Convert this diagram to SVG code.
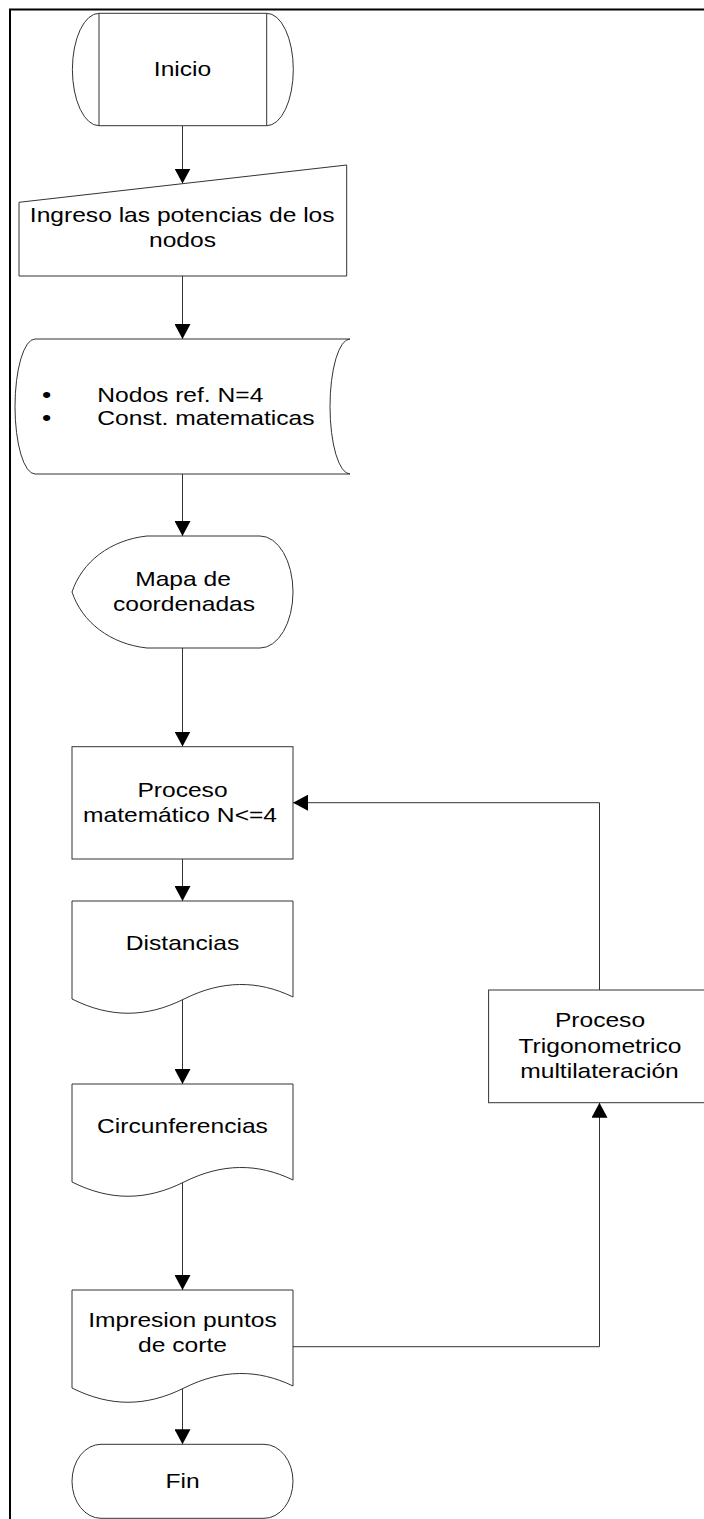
<svg xmlns="http://www.w3.org/2000/svg" width="704" height="1519" viewBox="0 0 704 1519">
<style>
.s{fill:#fff;stroke:#333;stroke-width:1}
.c{fill:none;stroke:#333;stroke-width:1}
.t{font-family:"Liberation Sans",Arial,sans-serif;font-size:20.5px;fill:#000}
</style>
<defs>
<marker id="a" markerUnits="userSpaceOnUse" markerWidth="16" markerHeight="16" refX="15" refY="8" orient="auto"><path d="M0,0 L15,8 L0,16 Z" fill="#000"/></marker>
</defs>
<rect width="704" height="1519" fill="#fff"/>
<path d="M10,1519 V9.5 H704" fill="none" stroke="#000" stroke-width="2"/>

<g id="connectors">
<path class="c" d="M182.5,126 V183.6" marker-end="url(#a)"/>
<path class="c" d="M182.5,276 V339" marker-end="url(#a)"/>
<path class="c" d="M182.5,474 V536" marker-end="url(#a)"/>
<path class="c" d="M182.5,648 V746.5" marker-end="url(#a)"/>
<path class="c" d="M182.5,859 V901" marker-end="url(#a)"/>
<path class="c" d="M182.5,999 V1084" marker-end="url(#a)"/>
<path class="c" d="M182.5,1182 V1290" marker-end="url(#a)"/>
<path class="c" d="M182.5,1388 V1444.3" marker-end="url(#a)"/>
<path class="c" d="M293,1346.7 H599.5 V1102.7" marker-end="url(#a)"/>
<path class="c" d="M599.5,990 V802.7 H293" marker-end="url(#a)"/>
</g>

<g id="inicio">
<path class="s" d="M99,13.3 H266.7 A26.6,56.2 0 0 1 266.7,125.7 H99 A26.6,56.2 0 0 1 99,13.3 Z"/>
<path class="c" d="M99,13.3 V125.7 M266.7,13.3 V125.7"/>
<text class="t" text-anchor="middle" transform="translate(182.5,76) scale(1.2,1)">Inicio</text>
</g>

<g id="ingreso">
<path class="s" d="M19,202.3 L346.7,165 V276 H19 Z"/>
<text class="t" text-anchor="middle" transform="translate(182.2,221.7) scale(1.2,1)">Ingreso las potencias de los</text>
<text class="t" text-anchor="middle" transform="translate(182.5,246.7) scale(1.2,1)">nodos</text>
</g>

<g id="datos">
<path class="s" d="M35,339 H350 A20,67.5 0 0 0 350,474 H35 A20,67.5 0 0 1 35,339 Z"/>
<text class="t" transform="translate(0,402) scale(1.2,1)"><tspan x="35" style="font-size:22px">•</tspan><tspan x="81.1">Nodos ref. N=4</tspan></text>
<text class="t" transform="translate(0,425) scale(1.2,1)"><tspan x="35" style="font-size:22px">•</tspan><tspan x="81.1">Const. matematicas</tspan></text>
</g>

<g id="mapa">
<path class="s" d="M147,536 H260 A33,56 0 0 1 260,648 H147 C110,644 82,622 72,592 C82,562 110,540 147,536 Z"/>
<text class="t" text-anchor="middle" transform="translate(183,586) scale(1.2,1)">Mapa de</text>
<text class="t" text-anchor="middle" transform="translate(184,611) scale(1.2,1)">coordenadas</text>
</g>

<g id="proceso">
<rect class="s" x="72" y="746.7" width="221" height="112.3"/>
<text class="t" text-anchor="middle" transform="translate(182.5,797.3) scale(1.2,1)">Proceso</text>
<text class="t" text-anchor="middle" transform="translate(180,821.7) scale(1.2,1)">matemático N&lt;=4</text>
</g>

<g id="distancias">
<path class="s" d="M72,901 H293 V997 C258,980 222,980 184,999 C146,1018 110,1018 72,999 Z"/>
<text class="t" text-anchor="middle" transform="translate(182.5,950) scale(1.2,1)">Distancias</text>
</g>

<g id="circunferencias">
<path class="s" d="M72,1084 H293 V1180 C258,1163 222,1163 184,1182 C146,1201 110,1201 72,1182 Z"/>
<text class="t" text-anchor="middle" transform="translate(182.5,1133.3) scale(1.2,1)">Circunferencias</text>
</g>

<g id="impresion">
<path class="s" d="M72,1290 H293 V1386 C258,1369 222,1369 184,1388 C146,1407 110,1407 72,1388 Z"/>
<text class="t" text-anchor="middle" transform="translate(182.5,1326.7) scale(1.2,1)">Impresion puntos</text>
<text class="t" text-anchor="middle" transform="translate(182.5,1351.7) scale(1.2,1)">de corte</text>
</g>

<g id="trigonometrico">
<rect class="s" x="488.6" y="990" width="222" height="112.7"/>
<text class="t" text-anchor="middle" transform="translate(600,1027.3) scale(1.2,1)">Proceso</text>
<text class="t" text-anchor="middle" transform="translate(600,1052.7) scale(1.2,1)">Trigonometrico</text>
<text class="t" text-anchor="middle" transform="translate(599.5,1078.3) scale(1.2,1)">multilateración</text>
</g>

<g id="fin">
<rect class="s" x="72" y="1444.3" width="221" height="74" rx="29" ry="37"/>
<text class="t" text-anchor="middle" transform="translate(182.5,1487.7) scale(1.2,1)">Fin</text>
</g>
</svg>
